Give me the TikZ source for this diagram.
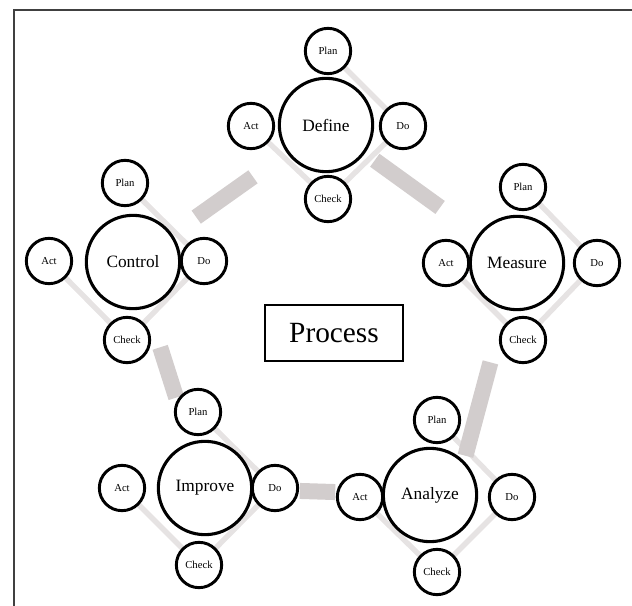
\documentclass[tikz,border=0pt]{standalone}
\usepackage{fontspec}
\setmainfont{Liberation Serif}
\usetikzlibrary{backgrounds}
\definecolor{lk}{HTML}{D2CDCD}
\definecolor{rg}{HTML}{E6E3E3}

\begin{document}
\begin{tikzpicture}[x=0.75pt,y=-0.75pt,
  big/.style={circle,draw,fill=white,line width=2.3pt,minimum size=70pt,inner sep=0pt,font=\fontsize{13}{15}\selectfont},
  sat/.style={circle,draw,fill=white,line width=2.2pt,minimum size=34pt,inner sep=0pt,font=\fontsize{8}{9}\selectfont},
  lnk/.style={draw=lk,line width=12pt},
  ring/.style={draw=rg,line width=4pt}]
\useasboundingbox (0,0) rectangle (632,606);
\draw[line width=1.4pt,black!75] (14,606) -- (14,10) -- (632,10);
% Define
\node[big] (def) at (326,125) {Define};
\node[sat] (defP) at (328,51) {Plan};
\node[sat] (defA) at (251,126) {Act};
\node[sat] (defD) at (403,126) {Do};
\node[sat] (defC) at (328,199) {Check};
% Measure
\node[big] (mea) at (517,263) {Measure};
\node[sat] (meaP) at (523,187) {Plan};
\node[sat] (meaA) at (446,263) {Act};
\node[sat] (meaD) at (597,263) {Do};
\node[sat] (meaC) at (523,340) {Check};
% Analyze
\node[big] (ana) at (430,495) {Analyze};
\node[sat] (anaP) at (437,420) {Plan};
\node[sat] (anaA) at (360,497) {Act};
\node[sat] (anaD) at (512,497) {Do};
\node[sat] (anaC) at (437,572) {Check};
% Improve
\node[big] (imp) at (205,488) {Improve};
\node[sat] (impP) at (198,412) {Plan};
\node[sat] (impA) at (122,488) {Act};
\node[sat] (impD) at (275,488) {Do};
\node[sat] (impC) at (199,565) {Check};
% Control
\node[big] (ctl) at (133,262) {Control};
\node[sat] (ctlP) at (125,183) {Plan};
\node[sat] (ctlA) at (49,261) {Act};
\node[sat] (ctlD) at (204,261) {Do};
\node[sat] (ctlC) at (127,340) {Check};
% centre box
\node[draw,line width=1.3pt,minimum width=103pt,minimum height=42pt,font=\fontsize{22}{26}\selectfont] (pro) at (334,333) {Process};
% shaded links behind the circles
\begin{scope}[on background layer]
\foreach \cl in {def,mea,ana,imp,ctl}
  \draw[ring] (\cl P) -- (\cl D) -- (\cl C) -- (\cl A) -- cycle;
\draw[lnk,shorten <=9pt,shorten >=35pt] (def) -- (mea);
\draw[lnk,shorten <=41pt,shorten >=4pt] (mea) -- (ana.45);
\draw[lnk,shorten <=35pt,shorten >=35pt] (ana) -- (imp);
\draw[lnk,shorten <=35pt,shorten >=31pt] (imp) -- (ctl);
\draw[lnk,shorten <=22pt,shorten >=31pt] (ctl) -- (def);
\end{scope}
\end{tikzpicture}
\end{document}
